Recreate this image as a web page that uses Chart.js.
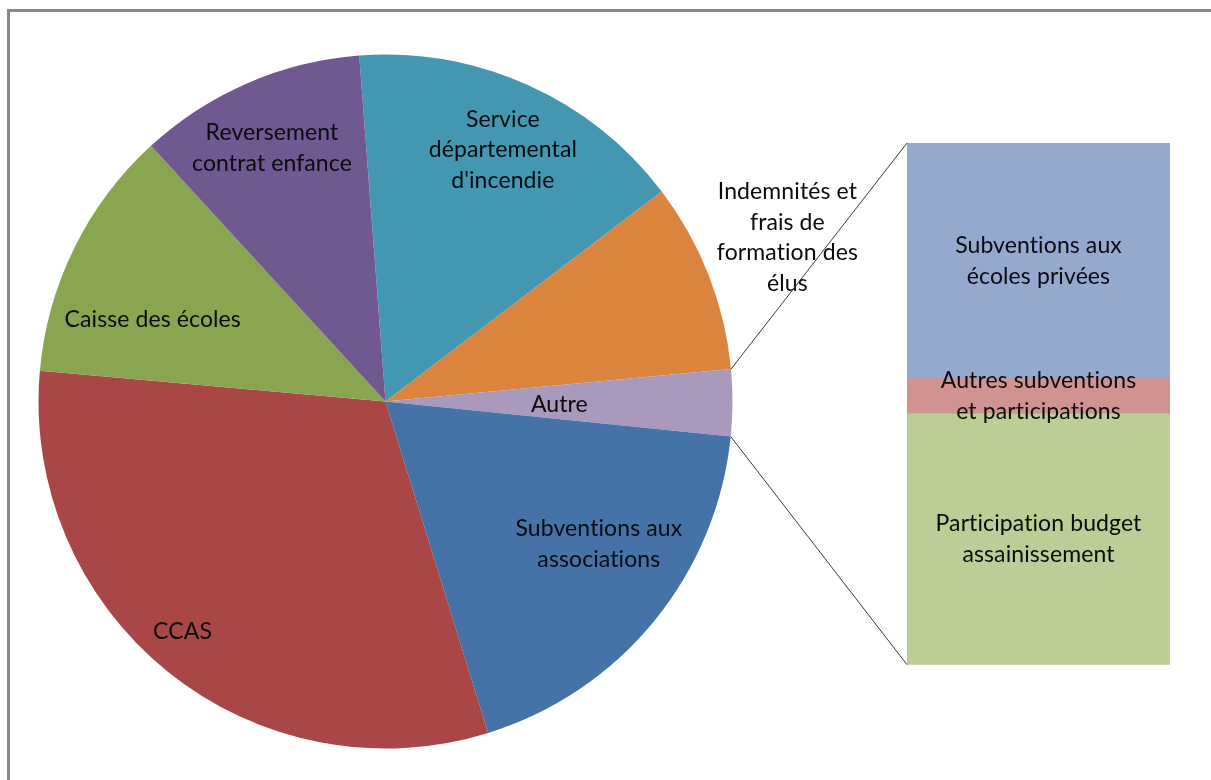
<!DOCTYPE html>
<html>
<head>
<meta charset="utf-8">
<script src="https://cdn.jsdelivr.net/npm/chart.js@4.4.1/dist/chart.umd.min.js"></script>
<style>
  html, body { margin: 0; padding: 0; background: #fff; width: 1211px; height: 780px; overflow: hidden; }
  #frame { position: absolute; left: 7px; top: 9px; width: 1400px; height: 1000px;
           border-left: 3px solid #878787; border-top: 3px solid #878787; box-sizing: border-box; }
  canvas { position: absolute; left: 0; top: 0; }
</style>
</head>
<body>
<div id="frame"></div>
<canvas id="pie" width="1211" height="780"></canvas>
<canvas id="bar" width="1211" height="780"></canvas>
<script>
// Main pie: shares of the subsidies budget (%), clockwise from the top
const pieCategories = [
  "Service départemental d'incendie",
  "Indemnités et frais de formation des élus",
  "Autre",
  "Subventions aux associations",
  "CCAS",
  "Caisse des écoles",
  "Reversement contrat enfance"
];
const pieLabelLines = [
  ["Service", "départemental", "d'incendie"],
  ["Indemnités et", "frais de", "formation des", "élus"],
  ["Autre"],
  ["Subventions aux", "associations"],
  ["CCAS"],
  ["Caisse des écoles"],
  ["Reversement", "contrat enfance"]
];
const pieValues = [15.86, 8.86, 3.10, 18.61, 31.19, 11.78, 10.61];

// Breakdown of "Autre" (bottom to top of the stacked bar)
const barCategories = [
  "Participation budget assainissement",
  "Autres subventions et participations",
  "Subventions aux écoles privées"
];
const barLabelLines = [
  ["Participation budget", "assainissement"],
  ["Autres subventions", "et participations"],
  ["Subventions aux", "écoles privées"]
];
const barValues = [1.49, 0.21, 1.40];

// Styling
const pieColors = ['#4397B0', '#DB843D', '#A899BD', '#4573A7', '#A84745', '#8AA550', '#705890'];
const barColors = ['#BBCE96', '#D19391', '#95A9CF'];
const labelRadius = [0.80, 1.251, 0.501, 0.739, 0.884, 0.711, 0.80];   // fraction of pie radius
const labelShiftDeg = [0.8, -0.9, 0.7, -5.6, 2.5, -6.9, -0.7];        // offset from slice mid-angle
const otherIndex = 2;
const FONT = '23px Lato, "Open Sans", sans-serif';
const LINE_H = 30.7;
const TEXT_COLOR = '#0a0a0a';

function drawLines(ctx, lines, cx, cy) {
  ctx.save();
  ctx.font = FONT;
  if ('letterSpacing' in ctx) ctx.letterSpacing = '0.1px'; // keeps "ti" as separate glyphs
  ctx.fillStyle = TEXT_COLOR;
  ctx.textAlign = 'center';
  ctx.textBaseline = 'middle';
  const y0 = cy - (lines.length - 1) * LINE_H / 2;
  lines.forEach((t, i) => ctx.fillText(t, cx, y0 + i * LINE_H));
  ctx.restore();
}

const pieLabelPlugin = {
  id: 'pieLabels',
  afterDatasetsDraw(chart) {
    const ctx = chart.ctx;
    chart.getDatasetMeta(0).data.forEach((arc, i) => {
      const p = arc.getProps(['x', 'y', 'startAngle', 'endAngle', 'outerRadius'], true);
      const mid = (p.startAngle + p.endAngle) / 2 + labelShiftDeg[i] * Math.PI / 180;
      const r = p.outerRadius * labelRadius[i];
      drawLines(ctx, pieLabelLines[i], p.x + Math.cos(mid) * r, p.y + Math.sin(mid) * r);
    });
  }
};

const pieChart = new Chart(document.getElementById('pie'), {
  type: 'pie',
  data: {
    labels: pieCategories,
    datasets: [{ data: pieValues, backgroundColor: pieColors, borderWidth: 0 }]
  },
  options: {
    responsive: false,
    animation: false,
    rotation: -4.34,
    layout: { padding: { left: 38.5, top: 54.5, right: 478.5, bottom: 31.5 } },
    plugins: { legend: { display: false }, tooltip: { enabled: false } }
  },
  plugins: [pieLabelPlugin]
});

const barOverlayPlugin = {
  id: 'barOverlay',
  afterDatasetsDraw(chart) {
    const ctx = chart.ctx;
    // segment labels
    chart.data.datasets.forEach((ds, i) => {
      const bar = chart.getDatasetMeta(i).data[0];
      const p = bar.getProps(['x', 'y', 'base'], true);
      drawLines(ctx, barLabelLines[i], p.x, (p.y + p.base) / 2);
    });
    // connectors from the "Autre" slice to the bar corners
    const arc = pieChart.getDatasetMeta(0).data[otherIndex];
    const a = arc.getProps(['x', 'y', 'startAngle', 'endAngle', 'outerRadius'], true);
    const top = chart.getDatasetMeta(chart.data.datasets.length - 1).data[0].getProps(['x', 'y', 'width'], true);
    const bottom = chart.getDatasetMeta(0).data[0].getProps(['x', 'base', 'width'], true);
    ctx.save();
    ctx.strokeStyle = '#3a3a3a';
    ctx.lineWidth = 1;
    ctx.beginPath();
    ctx.moveTo(a.x + Math.cos(a.startAngle) * a.outerRadius, a.y + Math.sin(a.startAngle) * a.outerRadius);
    ctx.lineTo(top.x - top.width / 2, top.y);
    ctx.moveTo(a.x + Math.cos(a.endAngle) * a.outerRadius, a.y + Math.sin(a.endAngle) * a.outerRadius);
    ctx.lineTo(bottom.x - bottom.width / 2, bottom.base);
    ctx.stroke();
    ctx.restore();
  }
};

const barTotal = barValues.reduce((s, v) => s + v, 0);
new Chart(document.getElementById('bar'), {
  type: 'bar',
  data: {
    labels: ['Autre'],
    datasets: barCategories.map((c, i) => ({
      label: c,
      data: [barValues[i]],
      backgroundColor: barColors[i],
      borderWidth: 0,
      barPercentage: 1,
      categoryPercentage: 1
    }))
  },
  options: {
    responsive: false,
    animation: false,
    layout: { padding: { left: 907, right: 41, top: 143, bottom: 115.3 } },
    scales: {
      x: { stacked: true, display: false },
      y: { stacked: true, display: false, min: 0, max: barTotal }
    },
    plugins: { legend: { display: false }, tooltip: { enabled: false } }
  },
  plugins: [barOverlayPlugin]
});
</script>
</body>
</html>
